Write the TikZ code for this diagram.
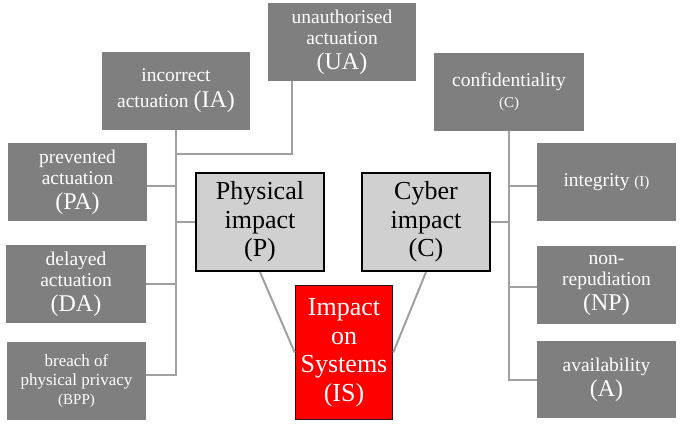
\documentclass[tikz,border=0pt]{standalone}
\usepackage{fontspec}
\setmainfont{Liberation Serif}
\definecolor{boxgray}{RGB}{127,127,127}
\definecolor{linegray}{RGB}{160,160,160}
\definecolor{lightbox}{RGB}{208,208,208}
\definecolor{isred}{RGB}{255,0,0}
\definecolor{isborder}{RGB}{40,20,20}
\newcommand{\txtS}{\fontsize{19.5}{21}\selectfont}
\newcommand{\txtB}{\fontsize{24}{25}\selectfont}
\newcommand{\txtT}{\fontsize{15}{17}\selectfont}
\newcommand{\txtH}{\fontsize{26}{28.5}\selectfont}
\newcommand{\txtP}{\fontsize{17}{19}\selectfont}
\begin{document}
\begin{tikzpicture}[x=1pt,y=-1pt,
  dark/.style={fill=boxgray,text=white,align=center,inner sep=0pt,font=\txtS},
  light/.style={fill=lightbox,draw=black,line width=2.2pt,align=center,inner sep=0pt,
    minimum width=128pt,minimum height=98pt,font=\txtH},
  conn/.style={draw=linegray,line width=2pt}]
\useasboundingbox (0,0) rectangle (680,424);
% left side
\node[dark,minimum width=148pt,minimum height=78pt] (UA) at (342,42)
  {unauthorised\\actuation\\[4pt]{\txtB (UA)}};
\node[dark,minimum width=148pt,minimum height=78pt] (IA) at (176,91)
  {incorrect\\[5pt]actuation {\txtB (IA)}};
\node[dark,minimum width=139pt,minimum height=78pt] (PA) at (77.5,182)
  {prevented\\actuation\\[4pt]{\txtB (PA)}};
\node[dark,minimum width=140pt,minimum height=78pt] (DA) at (76,284)
  {delayed\\actuation\\[4pt]{\txtB (DA)}};
\node[dark,minimum width=139pt,minimum height=78pt,font=\txtP] (BPP) at (76.5,381)
  {breach of\\physical privacy\\{\txtT (BPP)}};
% middle
\node[light] (P) at (260,222) {Physical\\impact\\(P)};
\node[light] (CY) at (426,222) {Cyber\\impact\\(C)};
\node[fill=isred,draw=isborder,line width=1.5pt,text=white,align=center,inner sep=0pt,
  minimum width=97pt,minimum height=134pt,font=\txtH] (IS) at (344,352.5)
  {Impact\\on\\Systems\\(IS)};
% right side
\node[dark,minimum width=150pt,minimum height=78pt] (C) at (509,92)
  {confidentiality\\{\txtT (C)}};
\node[dark,minimum width=139pt,minimum height=78pt] (I) at (606.5,182)
  {integrity {\txtT (I)}};
\node[dark,minimum width=139pt,minimum height=78pt] (NP) at (606.5,285)
  {non-\\repudiation\\[4pt]{\txtB (NP)}};
\node[dark,minimum width=139pt,minimum height=77pt] (A) at (606.5,379.5)
  {availability\\[4pt]{\txtB (A)}};
% connectors left
\coordinate (ujoin) at (176,154);
\draw[conn] ([yshift=6pt]BPP.east) -| (IA.south);
\draw[conn] (DA.east) -| (IA.south);
\draw[conn] ([yshift=-4pt]PA.east) -| (IA.south);
\draw[conn] (P.west) -| (IA.south);
\draw[conn] ([xshift=-50pt]UA.south) |- (ujoin);
% connectors right
\draw[conn] (A.west) -| (C.south);
\draw[conn] ([yshift=-2pt]NP.west) -| (C.south);
\draw[conn] ([yshift=-4pt]I.west) -| (C.south);
\draw[conn] (CY.east) -| (C.south);
% diagonals
\draw[conn] (P.south) -- (IS.west);
\draw[conn] (CY.south) -- (IS.east);
\end{tikzpicture}
\end{document}
